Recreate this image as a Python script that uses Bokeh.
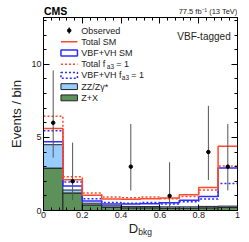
import numpy as np
from bokeh.plotting import figure
from bokeh.layouts import column
from bokeh.models import Range1d, LinearAxis, FixedTicker, Label
from bokeh.core.properties import value
from bokeh.embed import file_html
from bokeh.resources import INLINE

# ---------------- data ----------------
bin_edges = [0.0, 0.1, 0.2, 0.3, 0.4, 0.5, 0.6, 0.7, 0.8, 0.9, 1.0]
z_plus_x = [2.9, 1.2, 0.38, 0.22, 0.18, 0.18, 0.15, 0.15, 0.18, 0.2]
zz_zg = [1.6, 0.2, 0.12, 0.1, 0.1, 0.09, 0.1, 0.1, 0.1, 0.1]
total_sm = [5.6, 2.1, 1.05, 0.78, 0.77, 0.8, 0.85, 1.08, 1.58, 4.4]
vbfvh_sm = [4.7, 1.68, 0.65, 0.45, 0.45, 0.47, 0.53, 0.7, 0.95, 2.9]
total_fa3 = [6.45, 2.3, 1.2, 0.92, 0.88, 0.92, 0.8, 0.95, 1.4, 3.05]
vbfvh_fa3 = [5.45, 1.95, 0.8, 0.55, 0.5, 0.55, 0.45, 0.6, 0.78, 1.85]

obs_x = [0.05, 0.15, 0.45, 0.65, 0.85, 0.95]
obs_y = [6, 2, 3, 1, 4, 3]
obs_lo = [3.62, 0.71, 1.37, 0.17, 2.09, 1.37]
obs_hi = [9.58, 4.64, 5.92, 3.30, 7.16, 5.92]

x_ticks = [0, 0.2, 0.4, 0.6, 0.8, 1]
x_tick_labels = ["0", "0.2", "0.4", "0.6", "0.8", "1"]
y_ticks = [0, 5, 10]
y_tick_labels = ["0", "5", "10"]

# ---------------- style ----------------
RED = "#ff4a2a"
BLUE = "#2e2eff"
LBLUE = "#99ccff"
GREEN = "#5c915a"
EDGE = "#222222"
FONT = "Liberation Sans"
W = 249
BL, BR = 43, 12
HEAD_H, FOOT_H = 17, 22
MAIN_H = 242 - HEAD_H - FOOT_H


def bare_fig(h):
    f = figure(width=W, height=h, x_range=Range1d(0, 1), y_range=Range1d(h, 0),
               output_backend="svg", toolbar_location=None, title=None,
               x_axis_location=None, y_axis_location=None, min_border=0,
               min_border_left=BL, min_border_right=BR, min_border_top=0, min_border_bottom=0)
    f.grid.visible = False
    f.outline_line_color = None
    return f


# ---------------- header ----------------
head = bare_fig(HEAD_H)
head.text(x=[0.0], y=[10.3], text=["CMS"], text_font=value(FONT), text_font_size="10.5px",
          text_font_style="bold", text_color="black", text_baseline="middle", x_offset=0.5)
head.text(x=[1.0], y=[10.6], text=["77.5 fb\u207b\u00b9 (13 TeV)"], text_font=value(FONT),
          text_font_size="7.5px", text_color="#222222", text_align="right", text_baseline="middle")

# ---------------- main ----------------
p = figure(width=W, height=MAIN_H, x_range=Range1d(0, 1), y_range=Range1d(0, 13.2),
           output_backend="svg", toolbar_location=None, title=None,
           min_border_left=BL, min_border_right=BR, min_border_top=0, min_border_bottom=9)
p.grid.visible = False
p.outline_line_color = "black"
p.outline_line_width = 1

edges = np.array(bin_edges)
lefts, rights = edges[:-1], edges[1:]
zx = np.array(z_plus_x)
zz = np.array(zz_zg)

p.quad(left=lefts, right=rights, bottom=0, top=zx, fill_color=GREEN,
       line_color=EDGE, line_width=1)
p.quad(left=lefts, right=rights, bottom=zx, top=zx + zz, fill_color=LBLUE,
       line_color=EDGE, line_width=1)


def step_xy(vals):
    xs = np.repeat(edges, 2)[1:-1]
    ys = np.repeat(np.array(vals), 2)
    return xs, ys


for vals, col, dash in [(vbfvh_fa3, BLUE, "2 2"), (vbfvh_sm, BLUE, "solid"),
                        (total_fa3, RED, "2 2"), (total_sm, RED, "solid")]:
    xs, ys = step_xy(vals)
    p.line(xs, ys, line_color=col, line_width=1.5, line_dash=dash)

p.segment(x0=obs_x, y0=obs_lo, x1=obs_x, y1=obs_hi, line_color="#555555", line_width=1)
p.scatter(obs_x, obs_y, size=3.5, color="black")

x_minor = list(np.round(np.arange(0, 1.0001, 0.04), 3))
y_minor = list(np.arange(0, 13.2, 1.0))
xt = FixedTicker(ticks=x_ticks, minor_ticks=x_minor)
yt = FixedTicker(ticks=y_ticks, minor_ticks=y_minor)
p.add_layout(LinearAxis(ticker=xt), "above")
p.add_layout(LinearAxis(ticker=yt), "right")

for ax in p.xaxis:
    ax.ticker = xt
    ax.major_label_overrides = {t: l for t, l in zip(x_ticks, x_tick_labels)}
for ax in p.yaxis:
    ax.ticker = yt
    ax.major_label_overrides = {t: l for t, l in zip(y_ticks, y_tick_labels)}

for ax in p.axis:
    ax.major_tick_in = 6
    ax.major_tick_out = 0
    ax.minor_tick_in = 3
    ax.minor_tick_out = 0
    ax.axis_line_color = "black"
    ax.major_tick_line_color = "black"
    ax.minor_tick_line_color = "black"
    ax.major_label_text_font = FONT
    ax.major_label_text_font_size = "9px"
    ax.major_label_text_color = "#222222"
    ax.major_label_standoff = 2

p.below[0].major_label_standoff = 1
p.above[0].major_label_overrides = {t: "" for t in x_ticks}
p.right[0].major_label_overrides = {t: "" for t in y_ticks}
p.above[0].major_label_standoff = 0
p.right[0].major_label_standoff = 0

p.left[0].axis_label = "Events / bin"
p.left[0].axis_label_text_font = FONT
p.left[0].axis_label_text_font_size = "13px"
p.left[0].axis_label_text_font_style = "normal"
p.left[0].axis_label_text_color = "#222222"
p.left[0].axis_label_standoff = 4


def lab(x, y, text, size, **kw):
    kw.setdefault("text_font", FONT)
    kw.setdefault("text_color", "#222222")
    p.add_layout(Label(x=x, y=y, text=text, text_font_size=size, **kw))


lab(0.965, 11.53, "VBF-tagged", "10px", text_align="right")

# legend (drawn inside the frame)
LX0, LX1, LTX = 0.09, 0.175, 0.195
rows = [(210.5 - (29.3 + 11.3 * i)) / 14.72 for i in range(7)]
BH = 0.2
LEG_FS = "9px"

lx_mid = (LX0 + LX1) / 2
p.segment(x0=[lx_mid], y0=[rows[0] - 0.22], x1=[lx_mid], y1=[rows[0] + 0.22], line_color="black", line_width=1)
p.scatter([lx_mid], [rows[0]], size=3.5, color="black")
lab(LTX, rows[0], "Observed", LEG_FS, text_baseline="middle")
p.line([LX0, LX1], [rows[1], rows[1]], line_color=RED, line_width=1.5)
lab(LTX, rows[1], "Total SM", LEG_FS, text_baseline="middle")
p.quad(left=[LX0], right=[LX1], bottom=[rows[2] - BH], top=[rows[2] + BH],
       fill_color=None, line_color=BLUE, line_width=1.5)
lab(LTX, rows[2], "VBF+VH SM", LEG_FS, text_baseline="middle")
p.line([LX0, LX1], [rows[3], rows[3]], line_color=RED, line_width=1.5, line_dash="2 2")
lab(LTX, rows[3], "Total f", LEG_FS, text_baseline="middle")
lab(LTX, rows[3], "a3", "6.5px", text_baseline="middle", x_offset=25.5, y_offset=-2.5)
lab(LTX, rows[3], "= 1", LEG_FS, text_baseline="middle", x_offset=35)
p.quad(left=[LX0], right=[LX1], bottom=[rows[4] - BH], top=[rows[4] + BH],
       fill_color=None, line_color=BLUE, line_width=1.5, line_dash="2 2")
lab(LTX, rows[4], "VBF+VH f", LEG_FS, text_baseline="middle")
lab(LTX, rows[4], "a3", "6.5px", text_baseline="middle", x_offset=40.5, y_offset=-2.5)
lab(LTX, rows[4], "= 1", LEG_FS, text_baseline="middle", x_offset=50)
p.quad(left=[LX0], right=[LX1], bottom=[rows[5] - BH], top=[rows[5] + BH],
       fill_color=LBLUE, line_color=EDGE, line_width=1)
lab(LTX, rows[5], "ZZ/Z\u03b3*", LEG_FS, text_baseline="middle")
p.quad(left=[LX0], right=[LX1], bottom=[rows[6] - BH], top=[rows[6] + BH],
       fill_color=GREEN, line_color=EDGE, line_width=1)
lab(LTX, rows[6], "Z+X", LEG_FS, text_baseline="middle")

# ---------------- footer (x-axis title) ----------------
foot = bare_fig(FOOT_H)
foot.text(x=[0.44], y=[8.2], text=["D"], text_font=value(FONT), text_font_size="13px",
          text_color="#222222", text_baseline="middle")
foot.text(x=[0.489], y=[11.8], text=["bkg"], text_font=value(FONT), text_font_size="8.5px",
          text_color="#222222", text_baseline="middle")

layout = column(head, p, foot, spacing=0)
open("out.html", "w").write(file_html(layout, INLINE))
